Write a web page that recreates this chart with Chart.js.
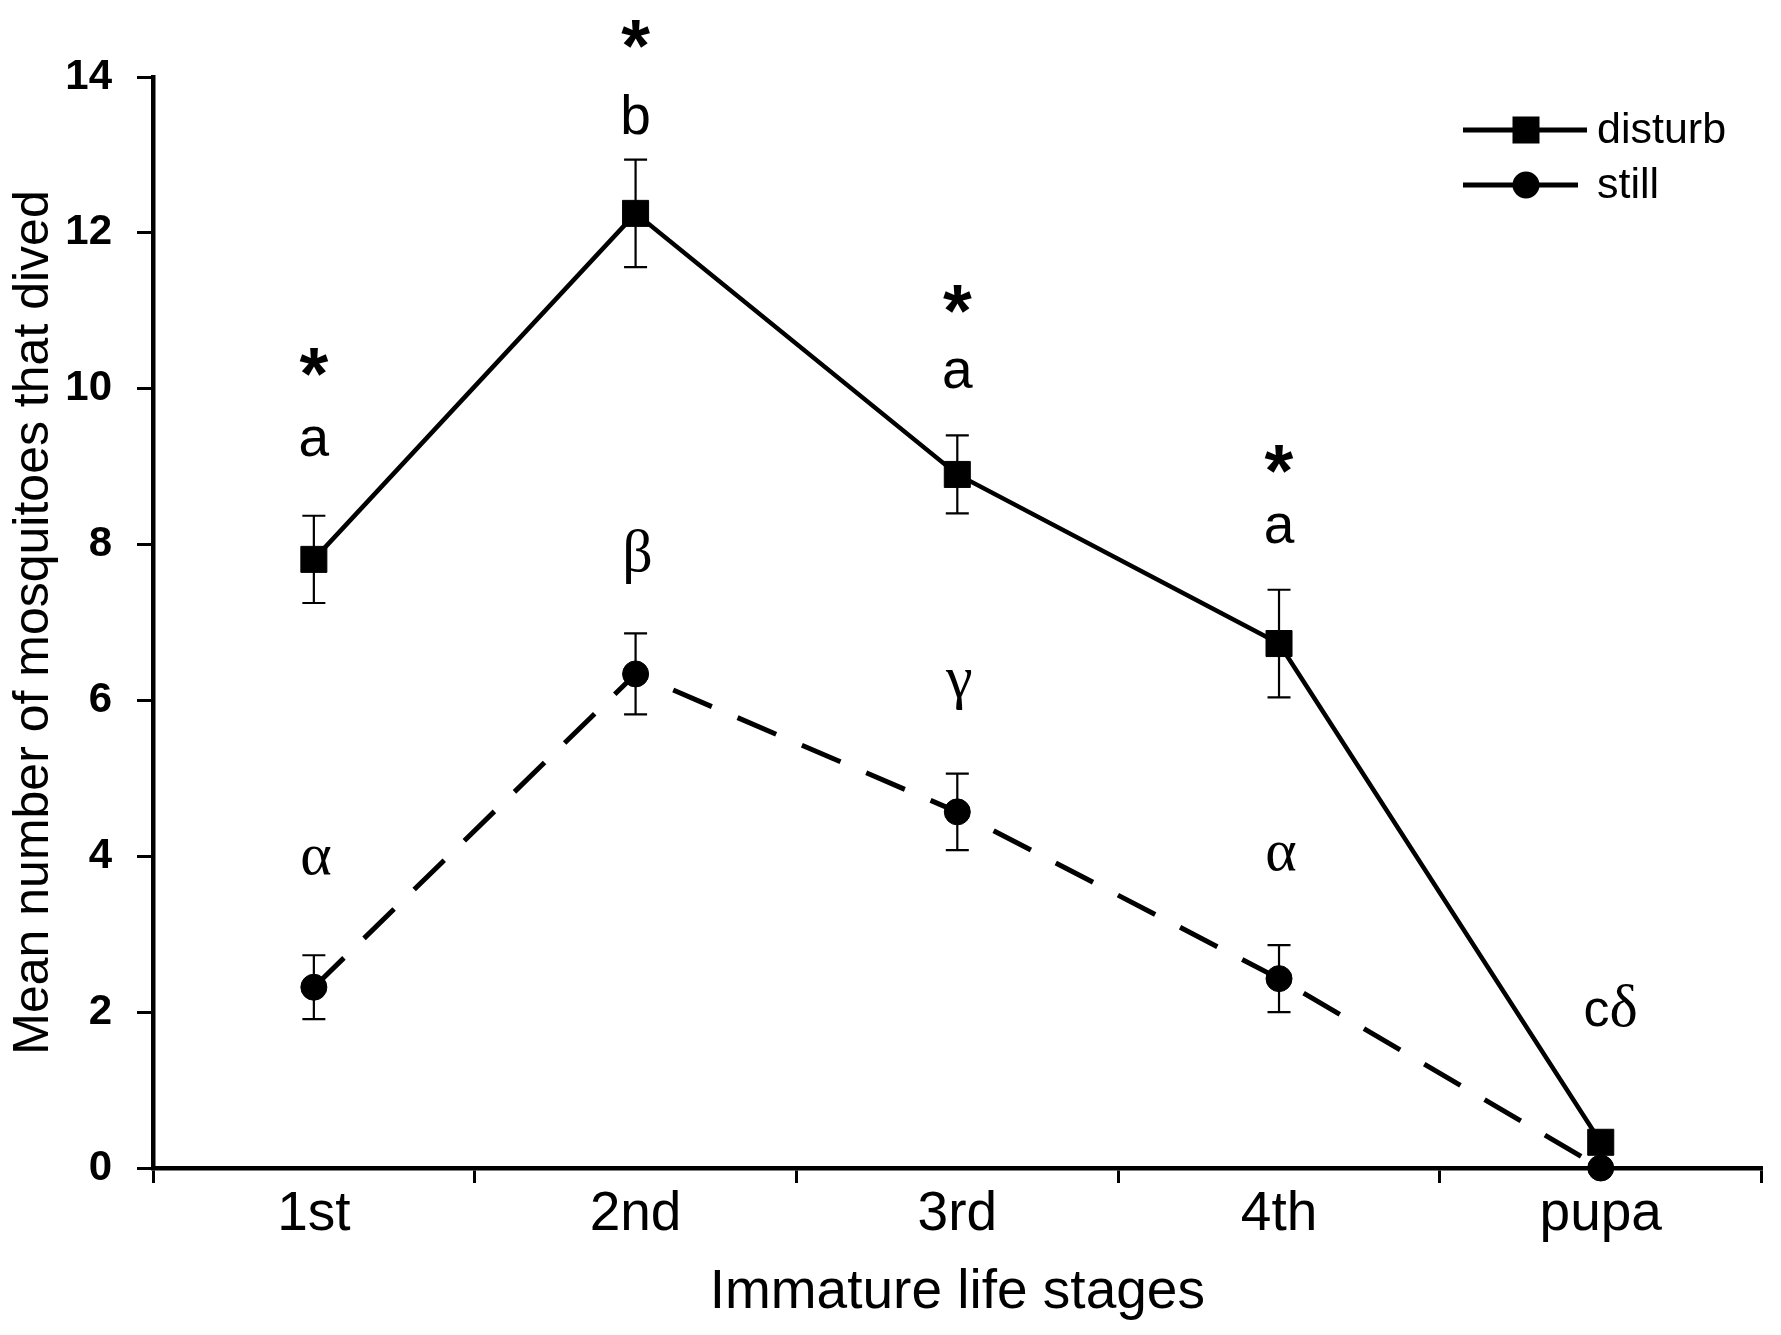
<!DOCTYPE html>
<html>
<head>
<meta charset="utf-8">
<script src="https://cdn.jsdelivr.net/npm/chart.js@4.4.1/dist/chart.umd.min.js"></script>
<style>
  html, body { margin: 0; padding: 0; background: #fff; }
  #wrap { width: 1781px; height: 1335px; }
</style>
</head>
<body>
<div id="wrap"><canvas id="c" width="1781" height="1335"></canvas></div>
<script>
// ---------- data ----------
const stages = ['1st', '2nd', '3rd', '4th', 'pupa'];
const disturbMean = [7.81, 12.25, 8.90, 6.73, 0.33];
const disturbSE   = [0.56, 0.69, 0.50, 0.69, 0];
const stillMean   = [2.32, 6.34, 4.57, 2.43, 0.00];
const stillSE     = [0.41, 0.52, 0.49, 0.43, 0];
const yTicks = [0, 2, 4, 6, 8, 10, 12, 14];

// significance / letter annotations (value = y position in data units)
const starMarks   = ['*', '*', '*', '*', ''];
const starY       = [10.34, 14.55, 11.15, 9.10, null];
const latinLetters = ['a', 'b', 'a', 'a', 'c'];
const latinY       = [9.32, 13.52, 10.19, 8.21, 2.06];
const greekLetters = ['α', 'β', 'γ', 'α', 'δ'];
const greekY       = [3.94, 7.85, 6.14, 4.00, 2.09];

const SANS = 'Liberation Sans, Arial, Helvetica, sans-serif';
const SERIF = 'Liberation Serif, Times New Roman, serif';

function inkCenterText(ctx, text, x, y, align) {
  ctx.textAlign = align || 'center';
  ctx.textBaseline = 'alphabetic';
  const m = ctx.measureText(text);
  const off = (m.actualBoundingBoxAscent - m.actualBoundingBoxDescent) / 2;
  ctx.fillText(text, x, y + off);
}

const errorBars = {
  id: 'errorBars',
  afterDatasetsDraw(chart) {
    const ctx = chart.ctx;
    const ys = chart.scales.y;
    const sets = [disturbSE, stillSE];
    ctx.save();
    ctx.strokeStyle = '#000';
    ctx.lineWidth = 2.2;
    chart.data.datasets.forEach((ds, i) => {
      const meta = chart.getDatasetMeta(i);
      const se = sets[i];
      meta.data.forEach((pt, j) => {
        if (!se[j]) return;
        const v = ds.data[j];
        const x = pt.x;
        const yt = ys.getPixelForValue(v + se[j]);
        const yb = ys.getPixelForValue(v - se[j]);
        const hw = 11.5;
        ctx.beginPath();
        ctx.moveTo(x, yt); ctx.lineTo(x, yb);
        ctx.moveTo(x - hw, yt); ctx.lineTo(x + hw, yt);
        ctx.moveTo(x - hw, yb); ctx.lineTo(x + hw, yb);
        ctx.stroke();
      });
    });
    ctx.restore();
  }
};

const annotations = {
  id: 'annotations',
  afterDraw(chart) {
    const ctx = chart.ctx;
    const xs = chart.scales.x;
    const ys = chart.scales.y;
    ctx.save();
    ctx.fillStyle = '#000';
    stages.forEach((s, i) => {
      const x = xs.getPixelForValue(i);
      if (starMarks[i]) {
        ctx.font = 'bold 74px ' + SANS;
        inkCenterText(ctx, starMarks[i], x, ys.getPixelForValue(starY[i]));
      }
      if (i < stages.length - 1) {
        ctx.font = '55px ' + SANS;
        inkCenterText(ctx, latinLetters[i], x, ys.getPixelForValue(latinY[i]));
        ctx.font = '60px ' + SERIF;
        inkCenterText(ctx, greekLetters[i], x + 2, ys.getPixelForValue(greekY[i]));
      } else {
        // combined label "cδ" sharing one baseline
        ctx.font = '60px ' + SERIF;
        const md = ctx.measureText(greekLetters[i]);
        const yc = ys.getPixelForValue(greekY[i]);
        const base = yc + (md.actualBoundingBoxAscent - md.actualBoundingBoxDescent) / 2;
        ctx.font = '52px ' + SANS;
        const mc = ctx.measureText(latinLetters[i]);
        const total = mc.width + md.width;
        const left = x + 10 - total / 2;
        ctx.textAlign = 'left';
        ctx.textBaseline = 'alphabetic';
        ctx.fillText(latinLetters[i], left, base);
        ctx.font = '60px ' + SERIF;
        ctx.fillText(greekLetters[i], left + mc.width, base);
      }
    });

    // legend
    const rows = [
      {label: 'disturb', y: 130, x1: 1463, x2: 1587, shape: 'rect'},
      {label: 'still', y: 185, x1: 1463, x2: 1578, shape: 'circle'}
    ];
    rows.forEach(r => {
      ctx.strokeStyle = '#000';
      ctx.lineWidth = 5;
      ctx.beginPath();
      ctx.moveTo(r.x1, r.y); ctx.lineTo(r.x2, r.y);
      ctx.stroke();
      ctx.fillStyle = '#000';
      if (r.shape === 'rect') {
        ctx.fillRect(1526 - 13.5, r.y - 13.5, 27, 27);
      } else {
        ctx.beginPath();
        ctx.arc(1526, r.y, 13.5, 0, Math.PI * 2);
        ctx.fill();
      }
      ctx.font = '43px ' + SANS;
      ctx.textAlign = 'left';
      ctx.textBaseline = 'middle';
      ctx.fillText(r.label, 1597, r.y + 1);
    });
    ctx.restore();
  }
};

Chart.defaults.font.family = SANS;
Chart.defaults.color = '#000';

new Chart(document.getElementById('c'), {
  type: 'line',
  data: {
    labels: stages,
    datasets: [
      {
        label: 'disturb',
        data: disturbMean,
        borderColor: '#000',
        borderWidth: 4.5,
        backgroundColor: '#000',
        pointStyle: 'rect',
        pointRadius: 18.4,
        pointBorderWidth: 1,
        pointBackgroundColor: '#000',
        pointBorderColor: '#000',
        tension: 0,
        clip: false
      },
      {
        label: 'still',
        data: stillMean,
        borderColor: '#000',
        borderWidth: 5,
        borderDash: [42, 28],
        backgroundColor: '#000',
        pointStyle: 'circle',
        pointRadius: 13,
        pointBorderWidth: 1,
        pointBackgroundColor: '#000',
        pointBorderColor: '#000',
        tension: 0,
        clip: false
      }
    ]
  },
  options: {
    responsive: false,
    animation: false,
    events: [],
    layout: { padding: { top: 77, right: 18, left: 0, bottom: 0 } },
    plugins: {
      legend: { display: false },
      tooltip: { enabled: false },
      title: { display: false }
    },
    scales: {
      x: {
        type: 'category',
        offset: true,
        grid: {
          offset: true,
          drawOnChartArea: false,
          drawTicks: true,
          tickLength: 15,
          color: '#000',
          lineWidth: 3
        },
        border: { display: true, color: '#000', width: 4.5 },
        ticks: {
          color: '#000',
          padding: 4,
          font: { size: 55, family: SANS, lineHeight: 1 }
        },
        title: {
          display: true,
          text: 'Immature life stages',
          color: '#000',
          font: { size: 55, family: SANS, lineHeight: 1.2 },
          padding: { top: 0, bottom: 9 }
        },
        afterFit(scale) { scale.height = 167; }
      },
      y: {
        min: 0,
        max: 14,
        afterBuildTicks(scale) { scale.ticks = yTicks.map(v => ({ value: v })); },
        grid: {
          drawOnChartArea: false,
          drawTicks: true,
          tickLength: 16,
          color: '#000',
          lineWidth: 3
        },
        border: { display: true, color: '#000', width: 4.5 },
        ticks: {
          color: '#000',
          padding: 25,
          font: { size: 42, weight: 'bold', family: SANS }
        },
        title: {
          display: true,
          text: 'Mean number of mosquitoes that dived',
          color: '#000',
          font: { size: 50, family: SANS, lineHeight: 1.2 },
          padding: { top: 4, bottom: 0 }
        },
        afterFit(scale) { scale.width = 153; }
      }
    }
  },
  plugins: [errorBars, annotations]
});
</script>
</body>
</html>
